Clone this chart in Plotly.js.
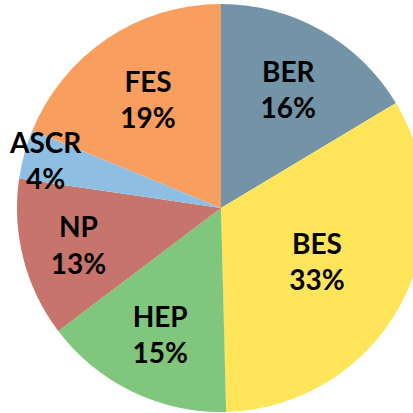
<!DOCTYPE html>
<html><head><meta charset="utf-8">
<script src="https://cdn.plot.ly/plotly-3.0.1.min.js"></script>
<style>html,body{margin:0;padding:0;overflow:hidden;width:413px;height:413px;background:#fff}#chart{width:442px;height:416px}</style>
</head><body><div id="chart"></div>
<script>
// Listed starting with FES so that the small ASCR label is drawn last (on top)
const labels = ['FES','BER','BES','HEP','NP','ASCR'];
const values = [18.8, 16.4, 33.2, 15.1, 12.6, 3.9];
const colors = ['#f89e5e','#7393a7','#fee55a','#80c67c','#c7746c','#8ebfe2'];
const total = values.reduce((a,b)=>a+b,0);
const rot = -360 * values[0] / total; // FES ends at 12 o'clock
Plotly.newPlot('chart', [{
  type:'pie', labels:labels, values:values, sort:false, direction:'clockwise', rotation:rot,
  marker:{colors:colors, line:{width:0}},
  texttemplate:'<b>%{label}<br>%{percent:.0%}</b>', textposition:'inside', insidetextorientation:'horizontal',
  textfont:{family:'Lato, sans-serif', size:28, color:'#000'},
  hoverinfo:'none'
}], {
  width:442, height:416, margin:{l:17,r:17,t:4,b:4}, showlegend:false,
  paper_bgcolor:'#fff', uniformtext:{mode:'show', minsize:28}
}, {staticPlot:true});
</script></body></html>
